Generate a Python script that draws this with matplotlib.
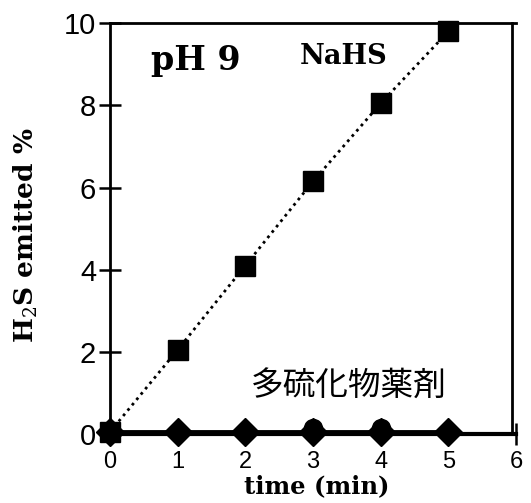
import matplotlib
matplotlib.use("Agg")
import matplotlib.pyplot as plt

plt.rcParams["font.family"] = ["Liberation Sans", "DejaVu Sans"]

time_min = [0, 1, 2, 3, 4, 5]
nahs = [0.05, 2.05, 4.1, 6.15, 8.05, 9.8]
poly_diamond = [0.05, 0.05, 0.05, 0.05, 0.05, 0.05]
poly_circle_x = [3, 4]
poly_circle = [0.15, 0.15]
x_ticks = [0, 1, 2, 3, 4, 5, 6]
y_ticks = [0, 2, 4, 6, 8, 10]

fig = plt.figure(figsize=(5.31, 5.03), dpi=100)
ax = fig.add_axes([0.207, 0.137, 0.765, 0.817])

ax.plot(time_min, nahs, linestyle=(0, (1, 1.5)), color="black", linewidth=2, zorder=2)
ax.plot(time_min, poly_diamond, color="black", linewidth=3.5, zorder=3, clip_on=False)
ax.plot(poly_circle_x, poly_circle, "o", color="black", markersize=13, zorder=4, clip_on=False)
ax.plot(time_min, poly_diamond, "D", color="black", markersize=14, zorder=4, clip_on=False)
ax.plot(time_min, nahs, "s", color="black", markersize=15, zorder=5, clip_on=False)

ax.set_xlim(0, 6)
ax.set_ylim(0, 10)
ax.set_xticks(x_ticks)
ax.set_yticks(y_ticks)
ax.tick_params(direction="inout", length=16, width=1.8, pad=2)
ax.tick_params(axis="y", labelsize=21)
ax.tick_params(axis="x", labelsize=17, pad=4)
for s in ax.spines.values():
    s.set_linewidth(2)
ax.spines["bottom"].set_linewidth(3)
ax.spines["right"].set_position(("data", 5.94))

serif = "DejaVu Serif"
ax.set_xlabel("time (min)", fontfamily=serif, fontweight="bold", fontsize=17.5)
ax.xaxis.set_label_coords(0.51, -0.098)
ax.set_ylabel("H$_2$S emitted %", fontfamily=serif, fontweight="bold", fontsize=19)
ax.yaxis.label.set_math_fontfamily("dejavuserif")
ax.yaxis.set_label_coords(-0.172, 0.485)

ax.text(0.6, 8.85, "pH 9", fontfamily=serif, fontweight="bold", fontsize=24, va="baseline")
ax.text(2.8, 9.0, "NaHS", fontfamily=serif, fontweight="bold", fontsize=19.5, va="baseline")
ax.text(3.53, 1.14, "多硫化物薬剤", fontfamily=["Noto Sans CJK JP", "DejaVu Sans"], fontsize=23.5,
        ha="center", va="center")

fig.savefig("out.png", dpi=100)
